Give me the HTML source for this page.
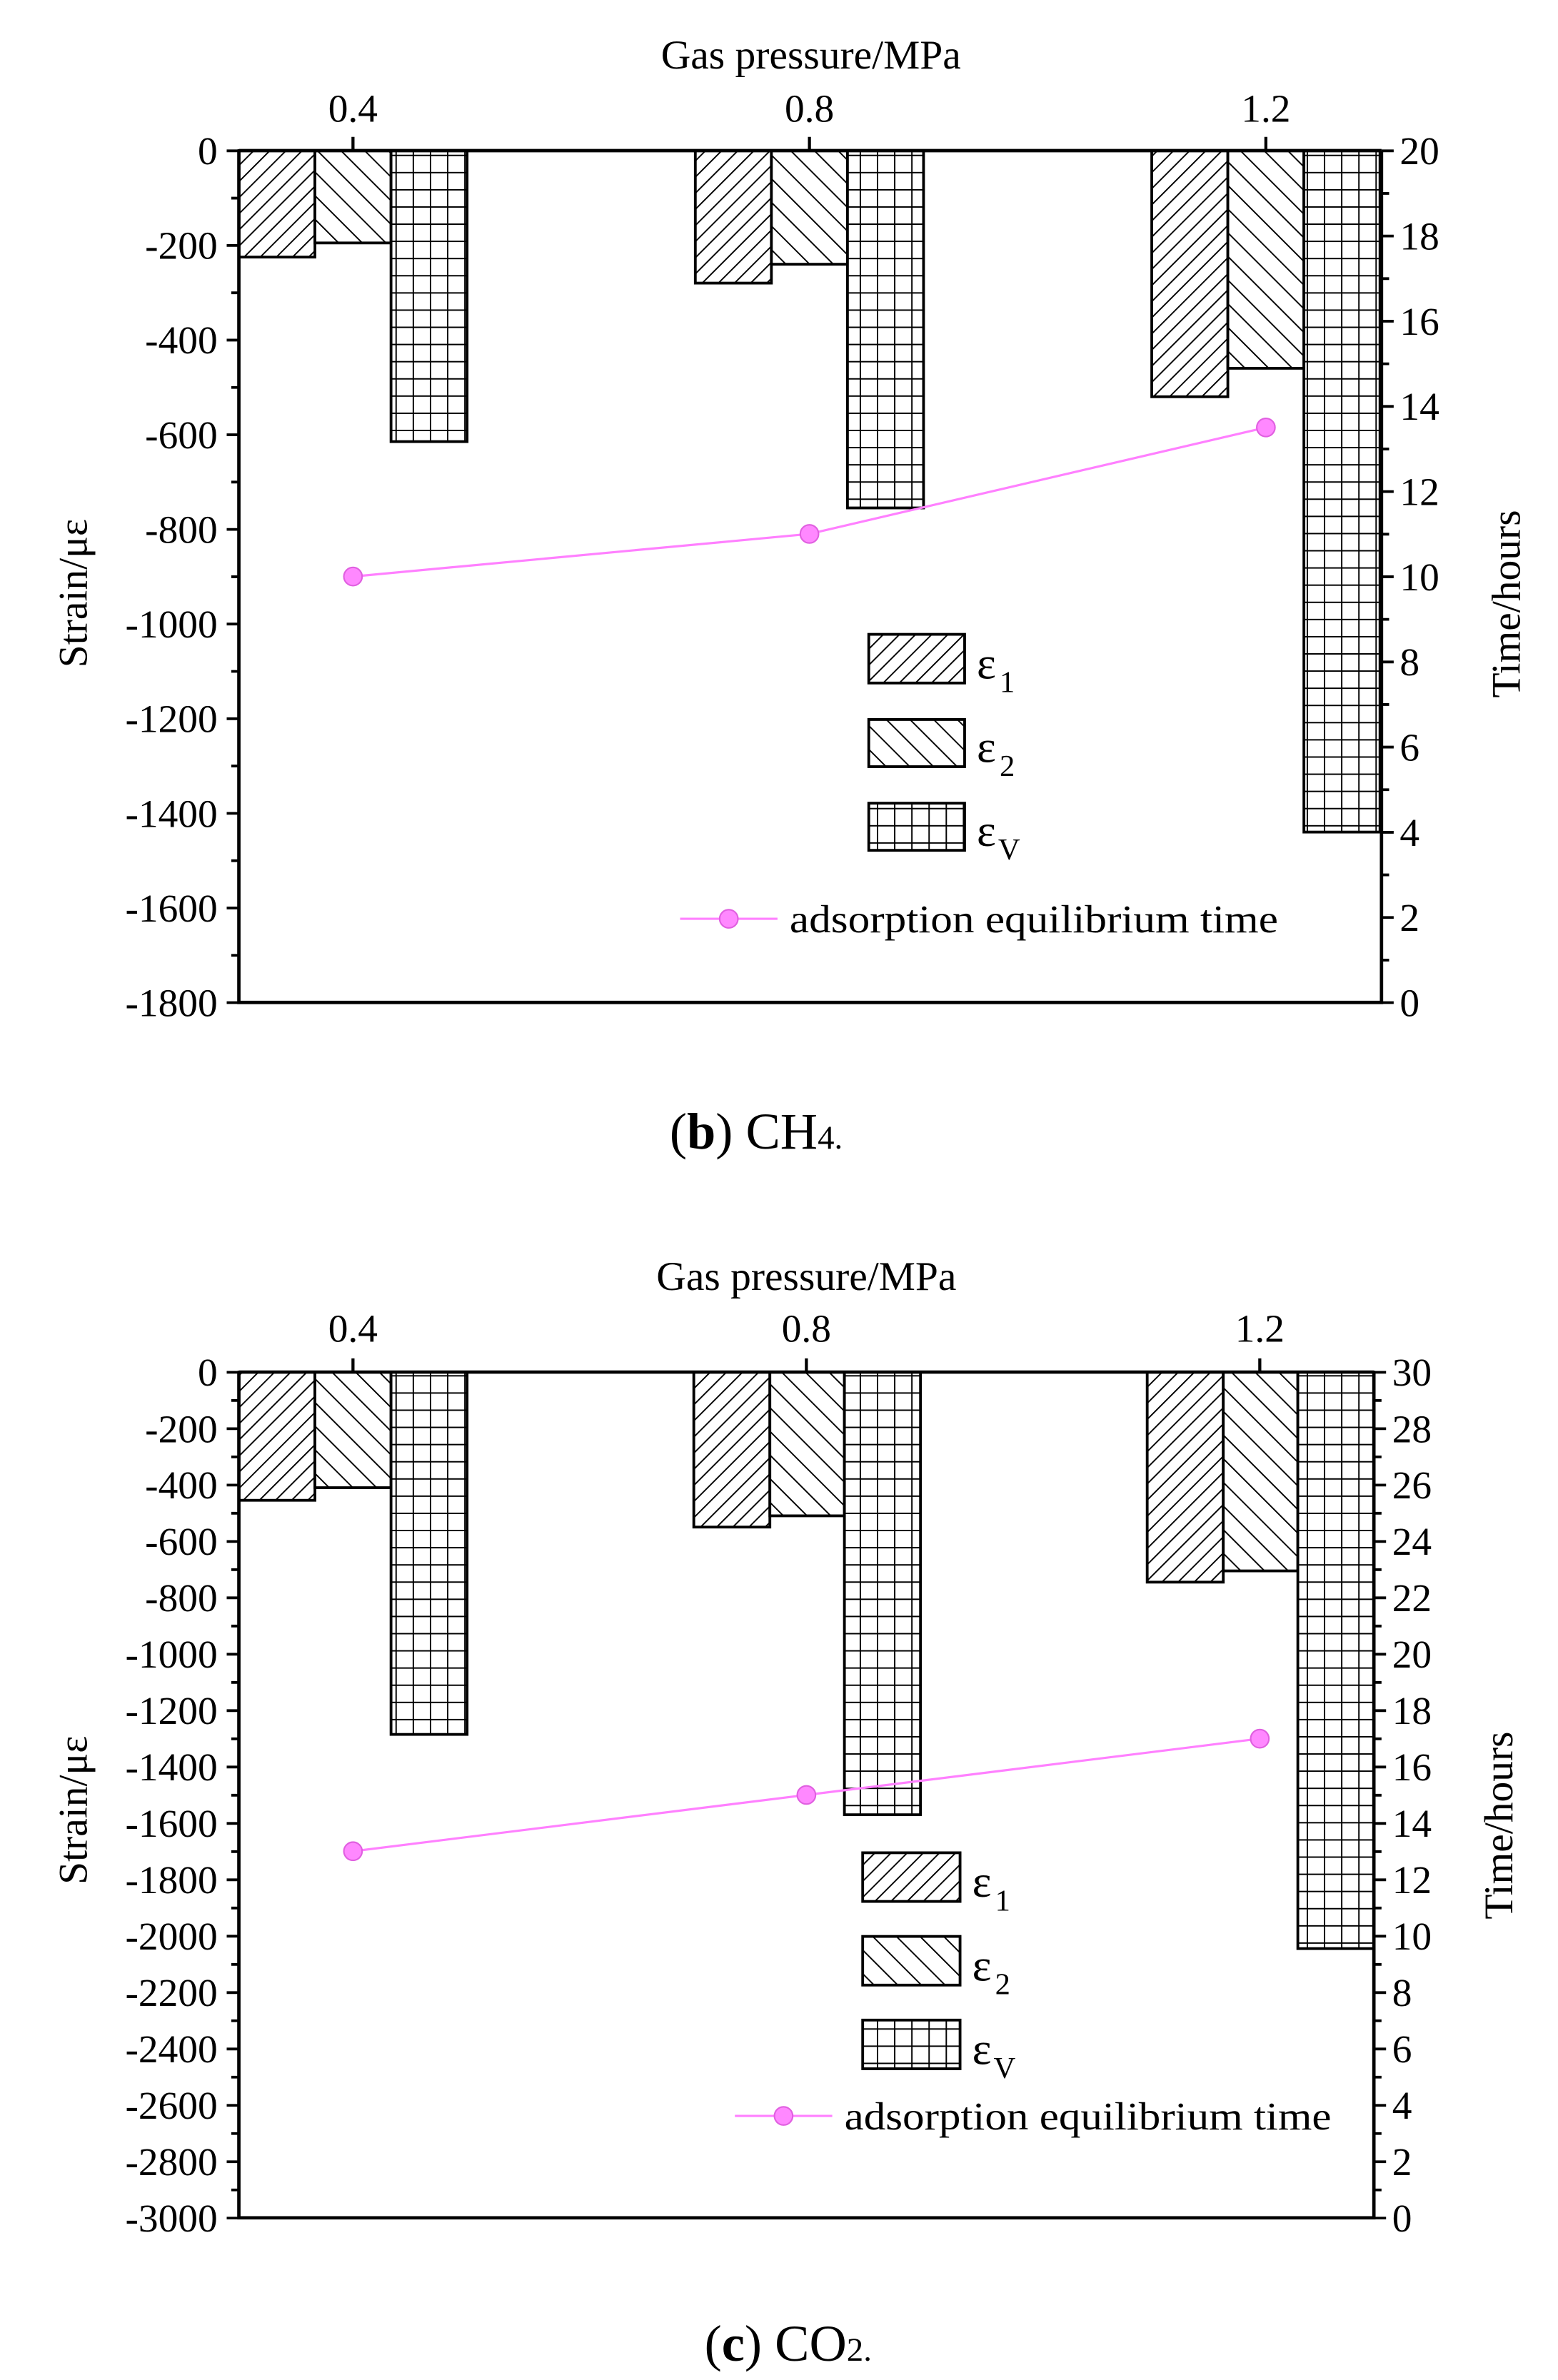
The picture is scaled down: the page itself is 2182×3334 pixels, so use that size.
<!DOCTYPE html>
<html><head><meta charset="utf-8"><style>
html,body{margin:0;padding:0;background:#fff}
svg{display:block}
svg, text{font-family:"Liberation Serif","Times New Roman",Times,serif;fill:#000}
</style></head><body>
<svg width="2182" height="3334" viewBox="0 0 1024 1564.6" xmlns="http://www.w3.org/2000/svg" font-family="Liberation Serif, Times New Roman, serif">
<defs>
<pattern id="h1" patternUnits="userSpaceOnUse" width="7.5" height="7.5" patternTransform="rotate(45)"><rect width="7.5" height="7.5" fill="#fff"/><line x1="0" y1="0" x2="0" y2="7.5" stroke="#000" stroke-width="1.8"/></pattern>
<pattern id="h2" patternUnits="userSpaceOnUse" width="11" height="11" patternTransform="rotate(-45)"><rect width="11" height="11" fill="#fff"/><line x1="0" y1="0" x2="0" y2="11" stroke="#000" stroke-width="1.8"/></pattern>
<pattern id="g1" patternUnits="userSpaceOnUse" x="0" y="0" width="11.3" height="11.3"><rect width="11.3" height="11.3" fill="#fff"/><path d="M0 0V11.3M0 0H11.3" stroke="#000" stroke-width="1.8"/></pattern>
<pattern id="g2" patternUnits="userSpaceOnUse" x="0" y="0" width="11.3" height="11.3"><rect width="11.3" height="11.3" fill="#fff"/><path d="M0 0V11.3M0 0H11.3" stroke="#000" stroke-width="1.8"/></pattern>
</defs>

<!-- ============ CHART 1 ============ -->
<text x="533" y="45" font-size="27" text-anchor="middle">Gas pressure/MPa</text>
<g font-size="26" text-anchor="middle"><text x="232" y="80">0.4</text><text x="532" y="80">0.8</text><text x="832" y="80">1.2</text></g>
<path d="M232 99V90M532 99V90M832 99V90" stroke="#000" stroke-width="2"/>
<g stroke="#000" stroke-width="1.8">
<rect x="157" y="99" width="50" height="70" fill="url(#h1)"/>
<rect x="207" y="99" width="50" height="60.7" fill="url(#h2)"/>
<rect x="257" y="99" width="50" height="191.3" fill="url(#g1)"/>
<rect x="457" y="99" width="50" height="87.1" fill="url(#h1)"/>
<rect x="507" y="99" width="50" height="74.7" fill="url(#h2)"/>
<rect x="557" y="99" width="50" height="234.9" fill="url(#g1)"/>
<rect x="757" y="99" width="50" height="161.8" fill="url(#h1)"/>
<rect x="807" y="99" width="50" height="143.1" fill="url(#h2)"/>
<rect x="857" y="99" width="50" height="448" fill="url(#g1)"/>
</g>
<path d="M157 99H908M157 99V659H908V99" fill="none" stroke="#000" stroke-width="2.2"/>
<line x1="153" y1="98.25" x2="153" y2="660" stroke="#000" stroke-width="8" stroke-dasharray="1.8 60.42"/>
<line x1="154.5" y1="129.36" x2="154.5" y2="660" stroke="#000" stroke-width="5" stroke-dasharray="1.8 60.42"/>
<line x1="912" y1="98.25" x2="912" y2="660" stroke="#000" stroke-width="8" stroke-dasharray="1.8 54.2"/>
<line x1="910.5" y1="126.25" x2="910.5" y2="660" stroke="#000" stroke-width="5" stroke-dasharray="1.8 54.2"/>
<g font-size="26" text-anchor="end">
<text x="143" y="108">0</text><text x="143" y="170.2">-200</text><text x="143" y="232.4">-400</text><text x="143" y="294.7">-600</text><text x="143" y="356.9">-800</text><text x="143" y="419.1">-1000</text><text x="143" y="481.3">-1200</text><text x="143" y="543.6">-1400</text><text x="143" y="605.8">-1600</text><text x="143" y="668">-1800</text>
</g>
<g font-size="26" text-anchor="start">
<text x="920" y="108">20</text><text x="920" y="164">18</text><text x="920" y="220">16</text><text x="920" y="276">14</text><text x="920" y="332">12</text><text x="920" y="388">10</text><text x="920" y="444">8</text><text x="920" y="500">6</text><text x="920" y="556">4</text><text x="920" y="612">2</text><text x="920" y="668">0</text>
</g>
<text transform="translate(57,390) rotate(-90)" font-size="27" text-anchor="middle">Strain/με</text>
<text transform="translate(999,397) rotate(-90)" font-size="27" text-anchor="middle">Time/hours</text>
<polyline points="232,379 532,351 832,281" fill="none" stroke="#ff80ff" stroke-width="1.5"/>
<g fill="#ff88ff" stroke="#e060e0" stroke-width="1"><circle cx="232" cy="379" r="6"/><circle cx="532" cy="351" r="6"/><circle cx="832" cy="281" r="6"/></g>
<g stroke="#000" stroke-width="1.8">
<rect x="571" y="417" width="63" height="32" fill="url(#h1)"/>
<rect x="571" y="473" width="63" height="31" fill="url(#h2)"/>
<rect x="571" y="528" width="63" height="31" fill="url(#g1)"/>
</g>
<g font-size="30"><text x="642" y="446">ε</text><text x="642" y="501">ε</text><text x="642" y="556">ε</text></g>
<g font-size="20"><text x="657" y="455">1</text><text x="657" y="510">2</text><text x="656" y="565">V</text></g>
<line x1="447" y1="604" x2="511" y2="604" stroke="#ff80ff" stroke-width="1.5"/>
<circle cx="479" cy="604" r="6" fill="#ff88ff" stroke="#e060e0"/>
<text x="519" y="613" font-size="26" textLength="321" lengthAdjust="spacingAndGlyphs">adsorption equilibrium time</text>
<text x="497" y="755" font-size="34" text-anchor="middle">(<tspan font-weight="bold">b</tspan>) CH<tspan font-size="22">4.</tspan></text>

<!-- ============ CHART 2 ============ -->
<text x="530" y="848" font-size="27" text-anchor="middle">Gas pressure/MPa</text>
<g font-size="26" text-anchor="middle"><text x="232" y="882">0.4</text><text x="530" y="882">0.8</text><text x="828" y="882">1.2</text></g>
<path d="M232 902V893M530 902V893M828 902V893" stroke="#000" stroke-width="2"/>
<g stroke="#000" stroke-width="1.8">
<rect x="157" y="902" width="50" height="84.3" fill="url(#h1)"/>
<rect x="207" y="902" width="50" height="76" fill="url(#h2)"/>
<rect x="257" y="902" width="50" height="238.2" fill="url(#g2)"/>
<rect x="456" y="902" width="50" height="101.9" fill="url(#h1)"/>
<rect x="506" y="902" width="49" height="94.5" fill="url(#h2)"/>
<rect x="555" y="902" width="50" height="291" fill="url(#g2)"/>
<rect x="754" y="902" width="50" height="138.1" fill="url(#h1)"/>
<rect x="804" y="902" width="49" height="130.7" fill="url(#h2)"/>
<rect x="853" y="902" width="50" height="379" fill="url(#g2)"/>
</g>
<path d="M157 902H903M157 902V1458H903V902" fill="none" stroke="#000" stroke-width="2.2"/>
<line x1="153" y1="901.25" x2="153" y2="1459" stroke="#000" stroke-width="8" stroke-dasharray="1.8 35.27"/>
<line x1="154.5" y1="919.78" x2="154.5" y2="1459" stroke="#000" stroke-width="5" stroke-dasharray="1.8 35.27"/>
<line x1="907" y1="901.25" x2="907" y2="1459" stroke="#000" stroke-width="8" stroke-dasharray="1.8 35.27"/>
<line x1="905.5" y1="919.78" x2="905.5" y2="1459" stroke="#000" stroke-width="5" stroke-dasharray="1.8 35.27"/>
<g font-size="26" text-anchor="end">
<text x="143" y="911">0</text><text x="143" y="948.1">-200</text><text x="143" y="985.1">-400</text><text x="143" y="1022.2">-600</text><text x="143" y="1059.3">-800</text><text x="143" y="1096.3">-1000</text><text x="143" y="1133.4">-1200</text><text x="143" y="1170.5">-1400</text><text x="143" y="1207.5">-1600</text><text x="143" y="1244.6">-1800</text><text x="143" y="1281.7">-2000</text><text x="143" y="1318.7">-2200</text><text x="143" y="1355.8">-2400</text><text x="143" y="1392.9">-2600</text><text x="143" y="1429.9">-2800</text><text x="143" y="1467">-3000</text>
</g>
<g font-size="26" text-anchor="start">
<text x="915" y="911">30</text><text x="915" y="948.1">28</text><text x="915" y="985.1">26</text><text x="915" y="1022.2">24</text><text x="915" y="1059.3">22</text><text x="915" y="1096.3">20</text><text x="915" y="1133.4">18</text><text x="915" y="1170.5">16</text><text x="915" y="1207.5">14</text><text x="915" y="1244.6">12</text><text x="915" y="1281.7">10</text><text x="915" y="1318.7">8</text><text x="915" y="1355.8">6</text><text x="915" y="1392.9">4</text><text x="915" y="1429.9">2</text><text x="915" y="1467">0</text>
</g>
<text transform="translate(57,1190) rotate(-90)" font-size="27" text-anchor="middle">Strain/με</text>
<text transform="translate(994,1200) rotate(-90)" font-size="27" text-anchor="middle">Time/hours</text>
<polyline points="232,1217 530,1180 828,1143" fill="none" stroke="#ff80ff" stroke-width="1.5"/>
<g fill="#ff88ff" stroke="#e060e0" stroke-width="1"><circle cx="232" cy="1217" r="6"/><circle cx="530" cy="1180" r="6"/><circle cx="828" cy="1143" r="6"/></g>
<g stroke="#000" stroke-width="1.8">
<rect x="567" y="1218" width="64" height="32" fill="url(#h1)"/>
<rect x="567" y="1273" width="64" height="32" fill="url(#h2)"/>
<rect x="567" y="1328" width="64" height="32" fill="url(#g2)"/>
</g>
<g font-size="30"><text x="639" y="1247">ε</text><text x="639" y="1302">ε</text><text x="639" y="1357">ε</text></g>
<g font-size="20"><text x="654" y="1256">1</text><text x="654" y="1311">2</text><text x="653" y="1366">V</text></g>
<line x1="483" y1="1391" x2="547" y2="1391" stroke="#ff80ff" stroke-width="1.5"/>
<circle cx="515" cy="1391" r="6" fill="#ff88ff" stroke="#e060e0"/>
<text x="555" y="1400" font-size="26" textLength="320" lengthAdjust="spacingAndGlyphs">adsorption equilibrium time</text>
<text x="518" y="1552" font-size="34" text-anchor="middle">(<tspan font-weight="bold">c</tspan>) CO<tspan font-size="22">2.</tspan></text>
</svg>
</body></html>
